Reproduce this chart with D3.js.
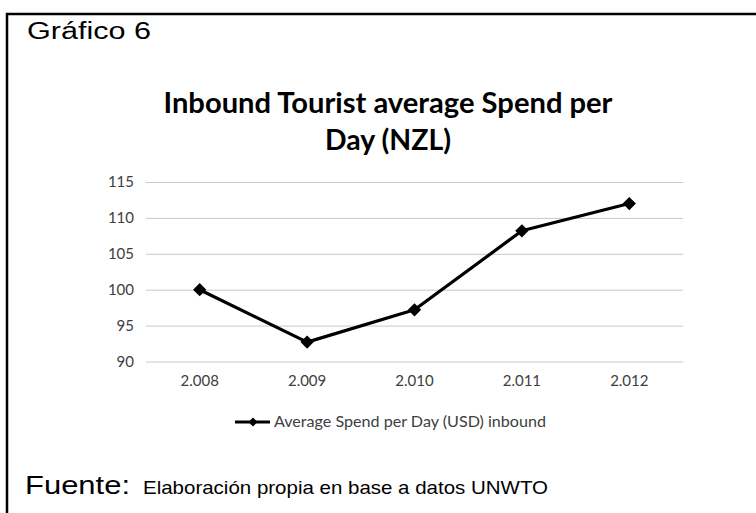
<!DOCTYPE html>
<html>
<head>
<meta charset="utf-8">
<script src="https://cdn.jsdelivr.net/npm/d3@7"></script>
<style>
  body { margin: 0; background: #fff; }
  svg { display: block; }
</style>
</head>
<body>
<svg id="svg1" width="756" height="513"></svg>
<script>
// values
const years  = ["2.008", "2.009", "2.010", "2.011", "2.012"];
const spend  = [100.0, 92.7, 97.2, 108.2, 112.0];
const yTicks = [90, 95, 100, 105, 110, 115];
const seriesName = "Average Spend per Day (USD) inbound";

const svg    = d3.select("#svg1"),
      margin = {top: 182, right: 73, bottom: 152, left: 146},
      width  = 756 - margin.left - margin.right,
      height = 361.5 - margin.top,
      x      = d3.scaleBand().domain(years).range([0, width]),
      y      = d3.scaleLinear().domain([90, 115]).range([height, 0]),
      g      = svg.append("g").attr("transform", `translate(${margin.left},${margin.top})`);

// outer frame (runs off the right and bottom edge)
svg.append("path")
    .attr("d", "M7,520 V14 H760")
    .attr("fill", "none")
    .attr("stroke", "#000")
    .attr("stroke-width", 2.5);

// the word-processor text is a bit stretched sideways, so fix the widths
svg.append("text")
    .attr("x", 27).attr("y", 39)
    .style("font-family", "Liberation Sans, Arial, sans-serif")
    .style("font-size", "23px")
    .attr("textLength", 124).attr("lengthAdjust", "spacingAndGlyphs")
    .text("Gráfico 6");

// chart title
const title = svg.append("g")
    .style("font-family", "Lato, sans-serif")
    .style("font-weight", "bold")
    .style("font-size", "28px")
    .attr("text-anchor", "middle");
title.append("text").attr("x", 388).attr("y", 113)
    .attr("textLength", 449).attr("lengthAdjust", "spacingAndGlyphs")
    .text("Inbound Tourist average Spend per");
title.append("text").attr("x", 388).attr("y", 150)
    .attr("textLength", 126).attr("lengthAdjust", "spacingAndGlyphs")
    .text("Day (NZL)");

// gridlines + y labels
g.append("g")
    .attr("class", "axis axis-y")
    .call(d3.axisLeft(y).tickValues(yTicks).tickSize(-width).tickPadding(12))
    .call(a => a.select(".domain").remove())
    .call(a => a.selectAll("line").attr("stroke", "#c8c8c8").attr("stroke-width", 1))
    .call(a => a.selectAll("text")
        .style("font-family", "Lato, sans-serif")
        .style("font-size", "15px")
        .attr("fill", "#404040"));

g.append("g")
    .attr("class", "axis axis-x")
    .attr("transform", `translate(0,${height})`)
    .call(d3.axisBottom(x).tickSize(0).tickPadding(14))
    .call(a => a.select(".domain").remove())
    .call(a => a.selectAll("text")
        .style("font-family", "Lato, sans-serif")
        .style("font-size", "15px")
        .attr("fill", "#404040"));

const data = years.map((yr, i) => ({year: yr, value: spend[i]}));
const cx = d => x(d.year) + x.bandwidth() / 2;

g.append("path")
    .datum(data)
    .attr("fill", "none")
    .attr("stroke", "#000")
    .attr("stroke-width", 3.2)
    .attr("stroke-linejoin", "round")
    .attr("d", d3.line().x(cx).y(d => y(d.value)));

const diamond = d3.symbol().type(d3.symbolSquare).size(88);
g.selectAll(".pt")
  .data(data)
  .enter().append("path")
    .attr("class", "pt")
    .attr("transform", d => `translate(${cx(d)},${y(d.value)}) rotate(45)`)
    .attr("d", diamond)
    .attr("fill", "#000");

// legend
const lg = svg.append("g").attr("transform", "translate(235,422)");
lg.append("line").attr("x1", 0).attr("x2", 35).attr("y1", 0).attr("y2", 0)
    .attr("stroke", "#000").attr("stroke-width", 3.2);
lg.append("path").attr("transform", "translate(18,0) rotate(45)")
    .attr("d", d3.symbol().type(d3.symbolSquare).size(40)).attr("fill", "#000");
lg.append("text").attr("x", 39).attr("y", 5)
    .style("font-family", "Lato, sans-serif")
    .style("font-size", "15px")
    .attr("fill", "#404040")
    .attr("textLength", 272).attr("lengthAdjust", "spacingAndGlyphs")
    .text(seriesName);

// source note
svg.append("text").attr("x", 25).attr("y", 494)
    .style("font-family", "Liberation Sans, Arial, sans-serif")
    .style("font-size", "25px")
    .attr("textLength", 105).attr("lengthAdjust", "spacingAndGlyphs")
    .text("Fuente:");
svg.append("text").attr("x", 143).attr("y", 494)
    .style("font-family", "Liberation Sans, Arial, sans-serif")
    .style("font-size", "19px")
    .attr("textLength", 405).attr("lengthAdjust", "spacingAndGlyphs")
    .text("Elaboración propia en base a datos UNWTO");
</script>
</body>
</html>
